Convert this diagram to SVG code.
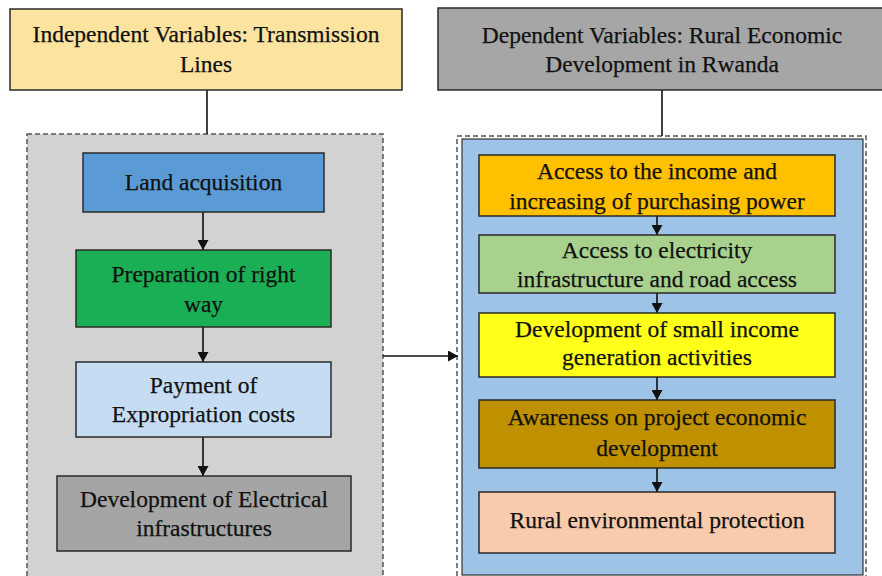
<svg xmlns="http://www.w3.org/2000/svg" width="882" height="576" viewBox="0 0 882 576">
<defs>
<style>
text{font-family:"Liberation Serif","Times New Roman",serif;font-size:23.5px;fill:#111;text-anchor:middle;stroke:#111;stroke-width:0.25}
.box{stroke:#2a2a2a;stroke-width:1.5}
.dash{fill:none;stroke:#555;stroke-width:1.5;stroke-dasharray:5,3}
.line{stroke:#111;stroke-width:1.6;fill:none}
</style>
<marker id="ah" markerWidth="10" markerHeight="11" refX="10" refY="5.5" orient="auto" markerUnits="userSpaceOnUse">
<path d="M0,0 L10,5.5 L0,11 Z" fill="#111"/>
</marker>
</defs>
<rect width="882" height="576" fill="#fff"/>

<g id="left-container">
<rect x="27" y="134" width="356" height="445" fill="#d2d2d2"/>
<rect x="27" y="134" width="356" height="445" class="dash"/>
</g>
<g id="right-container">
<rect x="457" y="136" width="409" height="443" class="dash"/>
<rect x="462" y="139" width="401" height="436" fill="#9dc3e6" stroke="#333" stroke-width="1.2"/>
</g>

<g id="connectors">
<line x1="207" y1="90" x2="207" y2="134" class="line"/>
<line x1="662" y1="90" x2="662" y2="136" class="line"/>
<line x1="203" y1="212" x2="203" y2="250" class="line" marker-end="url(#ah)"/>
<line x1="203" y1="327" x2="203" y2="362" class="line" marker-end="url(#ah)"/>
<line x1="203" y1="437" x2="203" y2="476" class="line" marker-end="url(#ah)"/>
<line x1="383" y1="356" x2="458" y2="356" class="line" marker-end="url(#ah)"/>
<line x1="657" y1="216" x2="657" y2="235" class="line" marker-end="url(#ah)"/>
<line x1="657" y1="293" x2="657" y2="313" class="line" marker-end="url(#ah)"/>
<line x1="657" y1="377" x2="657" y2="400" class="line" marker-end="url(#ah)"/>
<line x1="657" y1="468" x2="657" y2="492" class="line" marker-end="url(#ah)"/>
</g>

<g id="independent-header">
<rect x="10" y="9" width="392" height="81" fill="#fce4a0" class="box"/>
<text x="206" y="42">Independent Variables: Transmission</text>
<text x="206" y="72">Lines</text>
</g>
<g id="dependent-header">
<rect x="438" y="8" width="450" height="82" fill="#a6a6a6" class="box"/>
<text x="662" y="43">Dependent Variables: Rural Economic</text>
<text x="662" y="72">Development in Rwanda</text>
</g>

<g id="land-acquisition">
<rect x="83" y="153" width="241" height="59" fill="#5b9bd5" class="box"/>
<text x="203.5" y="190">Land acquisition</text>
</g>
<g id="preparation">
<rect x="76" y="250" width="255" height="77" fill="#1aaf54" class="box"/>
<text x="203.5" y="282">Preparation of right</text>
<text x="203.5" y="312">way</text>
</g>
<g id="payment">
<rect x="76" y="362" width="255" height="75" fill="#c5dcf2" class="box"/>
<text x="203.5" y="393">Payment of</text>
<text x="203.5" y="422">Expropriation costs</text>
</g>
<g id="electrical">
<rect x="57" y="476" width="294" height="75" fill="#a5a5a5" class="box"/>
<text x="204" y="507">Development of Electrical</text>
<text x="204" y="536">infrastructures</text>
</g>

<g id="income">
<rect x="479" y="155" width="356" height="61" fill="#ffc000" class="box"/>
<text x="657" y="179">Access to the income and</text>
<text x="657" y="209">increasing of purchasing power</text>
</g>
<g id="electricity">
<rect x="479" y="235" width="356" height="58" fill="#a9d18e" class="box"/>
<text x="657" y="258">Access to electricity</text>
<text x="657" y="287">infrastructure and road access</text>
</g>
<g id="small-income">
<rect x="479" y="313" width="356" height="64" fill="#ffff1a" class="box"/>
<text x="657" y="337">Development of small income</text>
<text x="657" y="365">generation activities</text>
</g>
<g id="awareness">
<rect x="479" y="400" width="356" height="68" fill="#bf9000" class="box"/>
<text x="657" y="425">Awareness on project economic</text>
<text x="657" y="456">development</text>
</g>
<g id="environment">
<rect x="479" y="492" width="356" height="61" fill="#f8cbad" class="box"/>
<text x="657" y="528">Rural environmental protection</text>
</g>
</svg>
